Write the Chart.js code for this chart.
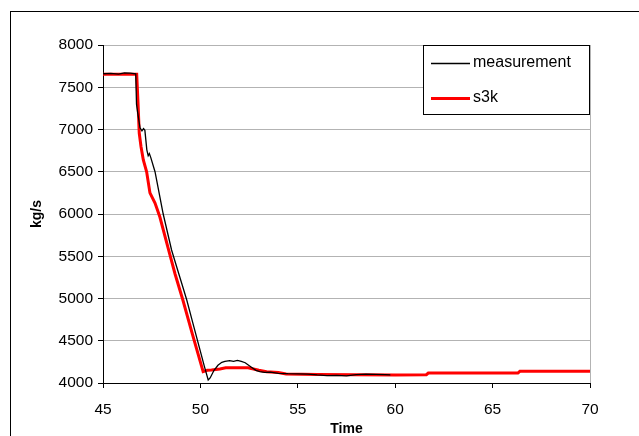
<!DOCTYPE html>
<html>
<head>
<meta charset="utf-8">
<script src="https://cdn.jsdelivr.net/npm/chart.js@4"></script>
<style>
  html, body { margin: 0; padding: 0; background: #fff; }
  canvas { display: block; }
</style>
</head>
<body>
<canvas id="chart" width="639" height="436"></canvas>
<script>
const xTicks = [45, 50, 55, 60, 65, 70];
const yTicks = [4000, 4500, 5000, 5500, 6000, 6500, 7000, 7500, 8000];

const seriesNames = ["measurement", "s3k"];

const measTime = [45.0, 45.4, 45.8, 46.1, 46.4, 46.68, 46.72, 46.78, 46.9, 47.0, 47.08, 47.15,
    47.25, 47.32, 47.38, 47.45, 47.67, 48.09, 48.52, 48.8, 49.0, 49.3, 49.6, 49.9, 50.2, 50.4,
    50.5, 50.7, 50.9, 51.1, 51.26, 51.5, 51.7, 51.9, 52.1, 52.3, 52.6, 52.85, 53.05, 53.3, 53.6,
    54.0, 54.5, 55.0, 55.5, 56.0, 56.5, 57.0, 57.5, 58.0, 58.5, 59.0, 59.5, 59.75];
const measValues = [7660, 7665, 7655, 7670, 7668, 7660, 7300, 7200, 7020, 6985, 7010, 6990,
    6760, 6690, 6715, 6670, 6500, 6000, 5574, 5361, 5210, 4982, 4720, 4460, 4200, 4035,
    4060, 4150, 4210, 4245, 4255, 4265, 4255, 4268, 4255, 4240, 4190, 4150, 4134, 4125, 4128,
    4115, 4110, 4108, 4105, 4095, 4088, 4090, 4085, 4100, 4105, 4102, 4100, 4095];

const s3kTime = [45.0, 46.73, 46.8, 46.86, 46.95, 47.07, 47.24, 47.41, 47.67, 47.92, 48.33, 48.7,
    49.1, 49.6, 50.14, 50.35, 50.57, 51.0, 51.3, 52.45, 53.0, 53.4, 54.0, 54.4, 56.0, 58.0,
    60.0, 61.6, 61.7, 66.3, 66.4, 70.0];
const s3kValues = [7655, 7655, 7300, 6958, 6800, 6640, 6500, 6250, 6130, 5964, 5609, 5290,
    4982, 4570, 4134, 4150, 4154, 4165, 4180, 4181, 4150, 4134, 4125, 4107, 4100, 4098,
    4095, 4098, 4118, 4118, 4138, 4138];

const toPoints = (xs, ys) => xs.map((x, i) => ({ x: x, y: ys[i] }));

const FONT = "'Liberation Sans', Arial, sans-serif";

// white page, outer frame, right edge of the plot, legend box
const framePlugin = {
    id: "frame",
    beforeDraw(chart) {
        const ctx = chart.ctx;
        ctx.save();
        ctx.fillStyle = "#fff";
        ctx.fillRect(0, 0, chart.width, chart.height);
        ctx.strokeStyle = "#000";
        ctx.lineWidth = 1;
        ctx.strokeRect(10.5, 11.5, 700, 500);
        ctx.restore();
    },
    afterDatasetsDraw(chart) {
        const ctx = chart.ctx;
        const area = chart.chartArea;
        ctx.save();
        ctx.strokeStyle = "#b3b3b3";
        ctx.lineWidth = 1;
        ctx.beginPath();
        ctx.moveTo(Math.round(area.right) + 0.5, area.top);
        ctx.lineTo(Math.round(area.right) + 0.5, area.bottom);
        ctx.stroke();

        // legend
        const box = { left: 423, top: 45, right: 589, bottom: 114 };
        ctx.fillStyle = "#fff";
        ctx.fillRect(box.left, box.top, box.right - box.left, box.bottom - box.top);
        ctx.strokeStyle = "#000";
        ctx.strokeRect(box.left + 0.5, box.top + 0.5, box.right - box.left, box.bottom - box.top);
        const rows = [63, 98];
        chart.data.datasets.forEach((ds, i) => {
            ctx.strokeStyle = ds.borderColor;
            ctx.lineWidth = ds.borderWidth;
            ctx.beginPath();
            ctx.moveTo(431, rows[i] + 0.5);
            ctx.lineTo(470, rows[i] + 0.5);
            ctx.stroke();
            ctx.fillStyle = "#000";
            ctx.font = "16px " + FONT;
            ctx.textBaseline = "middle";
            ctx.textAlign = "left";
            ctx.fillText(ds.label, 473, rows[i]);
        });
        ctx.restore();
    }
};

new Chart(document.getElementById("chart"), {
    type: "line",
    data: {
        datasets: [
            {
                label: seriesNames[0],
                data: toPoints(measTime, measValues),
                borderColor: "#000000",
                borderWidth: 1.3,
                pointRadius: 0,
                tension: 0
            },
            {
                label: seriesNames[1],
                data: toPoints(s3kTime, s3kValues),
                borderColor: "#ff0000",
                borderWidth: 3,
                pointRadius: 0,
                tension: 0
            }
        ]
    },
    options: {
        responsive: false,
        animation: false,
        layout: { padding: { top: 45, right: 49, bottom: 0, left: 0 } },
        plugins: {
            legend: { display: false },
            tooltip: { enabled: false }
        },
        scales: {
            x: {
                type: "linear",
                min: xTicks[0],
                max: xTicks[xTicks.length - 1],
                afterBuildTicks: (scale) => { scale.ticks = xTicks.map((v) => ({ value: v })); },
                afterFit: (scale) => { scale.height = 53; },
                grid: { drawOnChartArea: false, color: "#000", tickLength: 5 },
                border: { color: "#000" },
                ticks: {
                    color: "#000",
                    padding: 12,
                    maxRotation: 0,
                    callback: (v) => String(v),
                    font: { family: FONT, size: 15.5 }
                },
                title: {
                    display: true,
                    text: "Time",
                    color: "#000",
                    padding: 0,
                    font: { family: FONT, size: 14, weight: "bold", lineHeight: 1 }
                }
            },
            y: {
                min: yTicks[0],
                max: yTicks[yTicks.length - 1],
                afterBuildTicks: (scale) => { scale.ticks = yTicks.map((v) => ({ value: v })); },
                afterFit: (scale) => { scale.width = 103; },
                grid: { color: "#b3b3b3", tickColor: "#000", tickLength: 5 },
                border: { color: "#000" },
                ticks: {
                    color: "#000",
                    padding: 5,
                    callback: (v) => String(v),
                    font: { family: FONT, size: 15.5 }
                },
                title: {
                    display: true,
                    text: "kg/s",
                    color: "#000",
                    padding: { top: 30, bottom: 0 },
                    font: { family: FONT, size: 14, weight: "bold", lineHeight: 1 }
                }
            }
        }
    },
    plugins: [framePlugin]
});
</script>
</body>
</html>
